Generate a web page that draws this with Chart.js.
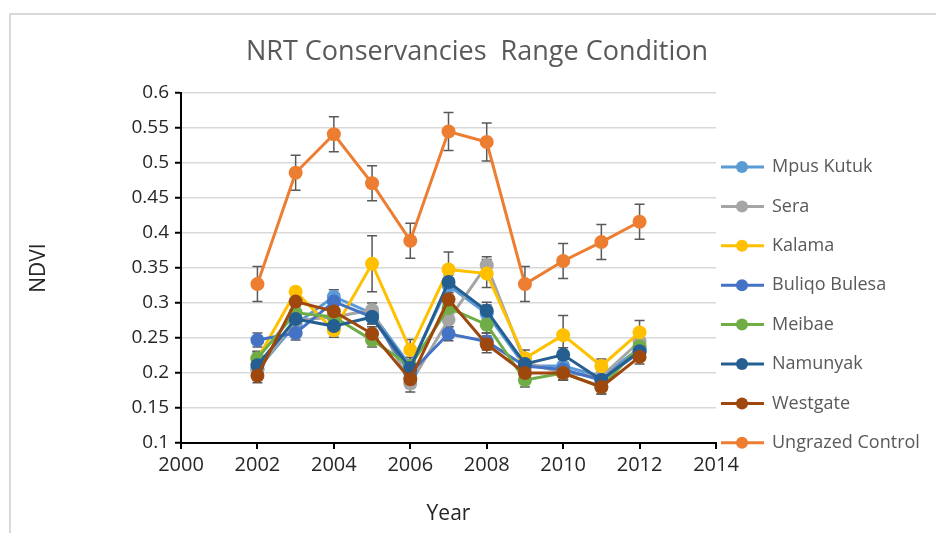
<!DOCTYPE html>
<html>
<head>
<meta charset="utf-8">
<script src="https://cdn.jsdelivr.net/npm/chart.js@4"></script>
<style>
  body { margin: 0; background: #fff; }
  #wrap { position: relative; width: 936px; height: 533px; overflow: hidden; }
  #frame { position: absolute; left: 9px; top: 13px; width: 940px; height: 540px; border-top: 2px solid #d9d9d9; border-left: 2px solid #d9d9d9; }
  canvas { position: absolute; left: 0; top: 0; }
</style>
</head>
<body>
<div id="wrap">
  <div id="frame"></div>
  <canvas id="myChart" width="936" height="533"></canvas>
</div>
<script>
// data
var years = [2002, 2003, 2004, 2005, 2006, 2007, 2008, 2009, 2010, 2011, 2012];
var xTicks = [2000, 2002, 2004, 2006, 2008, 2010, 2012, 2014];
var yTicks = [0.1, 0.15, 0.2, 0.25, 0.3, 0.35, 0.4, 0.45, 0.5, 0.55, 0.6];

var names = ["Mpus Kutuk", "Sera", "Kalama", "Buliqo Bulesa", "Meibae", "Namunyak", "Westgate", "Ungrazed Control"];

var mpusKutuk    = [0.205, 0.270, 0.309, 0.285, 0.210, 0.325, 0.285, 0.210, 0.210, 0.195, 0.235];
var sera         = [0.205, 0.275, 0.280, 0.290, 0.185, 0.276, 0.354, 0.215, 0.200, 0.195, 0.245];
var kalama       = [0.220, 0.316, 0.261, 0.356, 0.233, 0.348, 0.342, 0.221, 0.254, 0.210, 0.258];
var buliqoBulesa = [0.247, 0.257, 0.302, 0.280, 0.200, 0.256, 0.245, 0.210, 0.205, 0.190, 0.230];
var meibae       = [0.221, 0.286, 0.280, 0.247, 0.210, 0.293, 0.269, 0.190, 0.200, 0.180, 0.238];
var namunyak     = [0.211, 0.277, 0.267, 0.280, 0.207, 0.330, 0.289, 0.213, 0.226, 0.190, 0.231];
var westgate     = [0.196, 0.302, 0.288, 0.256, 0.191, 0.305, 0.241, 0.200, 0.200, 0.180, 0.223];
var ungrazed     = [0.327, 0.486, 0.541, 0.471, 0.389, 0.545, 0.530, 0.327, 0.360, 0.387, 0.416];

// error bar half-widths
var errSmall    = [0.010, 0.010, 0.010, 0.010, 0.012, 0.010, 0.012, 0.010, 0.010, 0.010, 0.010];
var errKalama   = [0.010, 0.005, 0.010, 0.040, 0.015, 0.025, 0.020, 0.012, 0.028, 0.010, 0.017];
var errUngrazed = [0.025, 0.025, 0.025, 0.025, 0.025, 0.027, 0.027, 0.025, 0.025, 0.025, 0.025];

var seriesValues = [mpusKutuk, sera, kalama, buliqoBulesa, meibae, namunyak, westgate, ungrazed];
var seriesErrors = [errSmall, errSmall, errKalama, errSmall, errSmall, errSmall, errSmall, errUngrazed];
var colors = ["#5B9BD5", "#A5A5A5", "#FFC000", "#4472C4", "#70AD47", "#255E91", "#9E480E", "#ED7D31"];

var FONT = "'Open Sans', sans-serif";

function buildDatasets() {
  var sets = [];
  names.forEach(function (name, i) {
    sets.push({
      label: name,
      data: years.map(function (y, j) { return {x: y, y: seriesValues[i][j]}; }),
      errors: seriesErrors[i],
      borderColor: colors[i],
      backgroundColor: colors[i],
      borderWidth: 3,
      pointRadius: 7,
      pointHoverRadius: 7,
      pointBorderWidth: 0,
      order: names.length - i
    });
  });
  return sets;
}

// error bars, drawn under the lines
var errorBars = {
  id: 'errorBars',
  beforeDatasetsDraw: function (chart) {
    var ctx = chart.ctx;
    var xs = chart.scales.x, ys = chart.scales.y;
    ctx.save();
    ctx.strokeStyle = '#595959';
    ctx.lineWidth = 1.5;
    chart.data.datasets.forEach(function (ds) {
      ds.data.forEach(function (p, j) {
        var e = ds.errors[j];
        var px = xs.getPixelForValue(p.x);
        var top = ys.getPixelForValue(p.y + e);
        var bot = ys.getPixelForValue(p.y - e);
        ctx.beginPath();
        ctx.moveTo(px, top); ctx.lineTo(px, bot);
        ctx.moveTo(px - 5, top); ctx.lineTo(px + 5, top);
        ctx.moveTo(px - 5, bot); ctx.lineTo(px + 5, bot);
        ctx.stroke();
      });
    });
    ctx.restore();
  }
};

// title and legend like the excel one
var titleLegend = {
  id: 'titleLegend',
  afterDraw: function (chart) {
    var ctx = chart.ctx;
    ctx.save();
    ctx.fillStyle = '#595959';
    ctx.font = '27px ' + FONT;
    ctx.textAlign = 'center';
    ctx.textBaseline = 'middle';
    ctx.fillText('NRT Conservancies  Range Condition', 477, 52);

    ctx.font = '18px ' + FONT;
    ctx.textAlign = 'left';
    chart.data.datasets.forEach(function (ds, i) {
      var y = 167 + i * 39.4;
      ctx.strokeStyle = ds.borderColor;
      ctx.lineWidth = 3;
      ctx.beginPath();
      ctx.moveTo(721, y); ctx.lineTo(764, y);
      ctx.stroke();
      ctx.fillStyle = ds.borderColor;
      ctx.beginPath();
      ctx.arc(742, y, 6, 0, Math.PI * 2);
      ctx.fill();
      ctx.fillStyle = '#595959';
      ctx.fillText(ds.label, 772, y);
    });
    ctx.restore();
  }
};

function generateGraph() {
  var ctx = document.getElementById('myChart').getContext('2d');
  var myChart = new Chart(ctx, {
    type: 'line',
    data: { datasets: buildDatasets() },
    options: {
      responsive: false,
      animation: false,
      layout: { padding: { left: 0, top: 93, right: 220, bottom: 0 } },
      plugins: {
        legend: { display: false },
        title: { display: false },
        tooltip: { enabled: false }
      },
      scales: {
        x: {
          type: 'linear',
          min: 2000,
          max: 2014,
          afterBuildTicks: function (s) { s.ticks = xTicks.map(function (v) { return {value: v}; }); },
          afterFit: function (s) { s.height = 90; },
          ticks: { color: '#262626', font: { family: FONT, size: 20 }, padding: 4,
                   callback: function (v) { return String(v); } },
          grid: { drawOnChartArea: false, drawTicks: true, tickLength: 6, color: '#000', lineWidth: 2 },
          border: { color: '#000', width: 2 },
          title: { display: true, text: 'Year', color: '#262626', font: { family: FONT, size: 21 },
                   padding: { top: 0, bottom: 6 } }
        },
        y: {
          min: 0.1,
          max: 0.6,
          afterBuildTicks: function (s) { s.ticks = yTicks.map(function (v) { return {value: v}; }); },
          afterFit: function (s) { s.width = 181; },
          ticks: { color: '#262626', font: { family: FONT, size: 19 }, padding: 6,
                   callback: function (v) { return String(Number(v.toFixed(2))); } },
          grid: { color: '#d9d9d9', lineWidth: 1.5, tickLength: 6, tickColor: '#000', tickWidth: 2 },
          border: { color: '#000', width: 2 },
          title: { display: true, text: 'NDVI', color: '#262626', font: { family: FONT, size: 21 },
                   padding: { top: 26, bottom: 0 } }
        }
      }
    },
    plugins: [errorBars, titleLegend]
  });
  return myChart;
}

generateGraph();
</script>
</body>
</html>
